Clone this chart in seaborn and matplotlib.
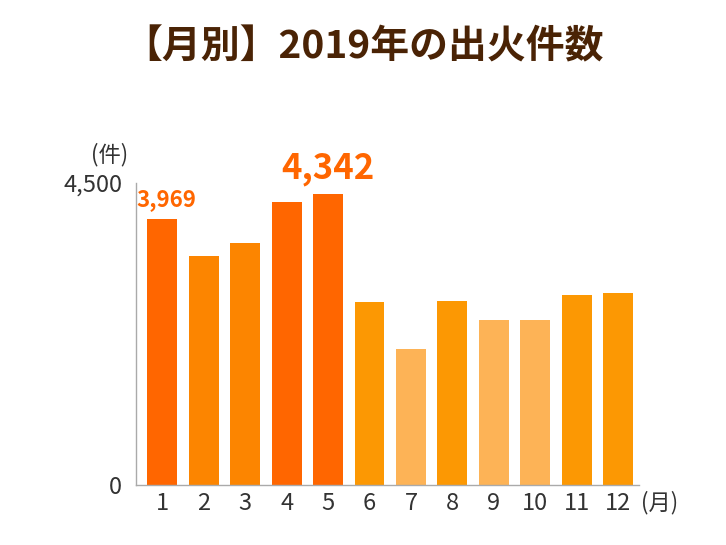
import matplotlib
matplotlib.use("Agg")
import matplotlib.pyplot as plt
import seaborn as sns
import pandas as pd

months = ["1", "2", "3", "4", "5", "6", "7", "8", "9", "10", "11", "12"]
fires = [3969, 3416, 3606, 4221, 4342, 2722, 2026, 2742, 2463, 2458, 2831, 2861]
bar_colors = ["#FF6600", "#FC8500", "#FC8500", "#FF6600", "#FF6600", "#FC9803",
              "#FDB356", "#FC9803", "#FDB356", "#FDB356", "#FC9803", "#FC9803"]
y_ticks = [0, 4500]
y_tick_labels = ["0", "4,500"]

sns.set_style("white")
plt.rcParams['font.family'] = ['Noto Sans CJK JP', 'DejaVu Sans']

df = pd.DataFrame({"month": months, "fires": fires})

fig = plt.figure(figsize=(7.26, 5.45), dpi=100)
ax = fig.add_axes([0.1873, 0.1101, 0.6927, 0.5541])

sns.barplot(data=df, x="month", y="fires", hue="month", palette=bar_colors,
            legend=False, width=0.72, saturation=1, linewidth=0, ax=ax)

ax.set_ylim(0, 4500)
ax.set_xlim(-0.635, 11.5)
ax.set_yticks(y_ticks)
ax.set_yticklabels(y_tick_labels)
ax.tick_params(axis="both", length=0, labelsize=17, labelcolor="#333333")
ax.tick_params(axis="y", pad=10)
ax.tick_params(axis="x", pad=5)
ax.set_xlabel("")
ax.set_ylabel("")
for side in ["top", "right"]:
    ax.spines[side].set_visible(False)
for side in ["left", "bottom"]:
    ax.spines[side].set_color("#AAAAAA")
    ax.spines[side].set_linewidth(1)

# value labels on January and May
ax.text(0.1, fires[0] + 120, f"{fires[0]:,}", ha="center", va="bottom",
        fontsize=16, fontweight="bold", color="#FF6600")
ax.text(4, fires[4] + 110, f"{fires[4]:,}", ha="center", va="bottom",
        fontsize=25, fontweight="bold", color="#FF6600")

fig.text(110 / 726, 1 - 155 / 545, "(件)", ha="center", va="center",
         fontsize=16, color="#333333")
fig.text(660 / 726, 1 - 503 / 545, "(月)", ha="center", va="center",
         fontsize=16, color="#333333")

fig.text(364 / 726, 1 - 47 / 545, "【月別】2019年の出火件数", ha="center", va="center",
         fontsize=28, fontweight="bold", color="#4A2305")

fig.savefig("out.png", dpi=100)
